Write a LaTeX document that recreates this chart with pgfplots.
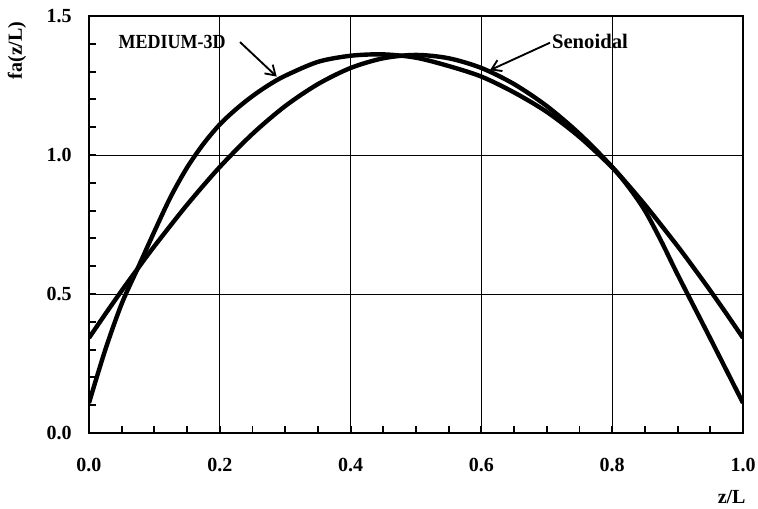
\documentclass[border=0pt]{standalone}
\usepackage{pgfplots}
\pgfplotsset{compat=1.18}
\usepackage{fontspec}
\setmainfont{Liberation Serif}
\usetikzlibrary{arrows.meta}

\pgfplotstableread{
x y
0.000 0.108
0.025 0.300
0.050 0.465
0.075 0.595
0.100 0.725
0.125 0.850
0.150 0.955
0.175 1.040
0.200 1.110
0.225 1.165
0.250 1.212
0.275 1.252
0.300 1.285
0.350 1.335
0.400 1.357
0.450 1.362
0.500 1.350
0.550 1.320
0.600 1.282
0.650 1.225
0.700 1.155
0.750 1.065
0.800 0.955
0.825 0.885
0.850 0.800
0.875 0.690
0.900 0.570
0.950 0.340
1.000 0.108
}\medium

\pgfplotstableread{
x y
0.000 0.342
0.025 0.428
0.050 0.512
0.075 0.593
0.100 0.672
0.150 0.821
0.200 0.957
0.250 1.076
0.300 1.176
0.350 1.255
0.400 1.313
0.450 1.348
0.500 1.360
0.550 1.348
0.600 1.313
0.650 1.255
0.700 1.176
0.750 1.076
0.800 0.957
0.850 0.821
0.900 0.672
0.925 0.593
0.950 0.512
0.975 0.428
1.000 0.342
}\senoidal

\begin{document}
\begin{tikzpicture}
\useasboundingbox (-66.75pt,-56.25pt) rectangle (501.75pt,324.75pt);
\begin{axis}[
  at={(0,0)}, anchor=south west,
  scale only axis, width=490.5pt, height=312.75pt,
  xmin=0, xmax=1, ymin=0, ymax=1.5,
  xtick={0,0.2,0.4,0.6,0.8,1.0},
  ytick={0,0.5,1.0,1.5},
  xticklabels={0.0,0.2,0.4,0.6,0.8,1.0},
  yticklabels={0.0,0.5,1.0,1.5},
  minor x tick num=3, minor y tick num=4,
  tick align=inside, xtick pos=bottom, ytick pos=left,
  major tick length=5pt, minor tick length=5pt,
  every tick/.style={black, line width=1.4pt},
  grid=major, major grid style={black, line width=0.6pt},
  axis line style={black, line width=2.2pt},
  ticklabel style={font=\fontsize{15}{17}\selectfont\bfseries},
  xticklabel style={yshift=-15pt},
  yticklabel style={xshift=-9.5pt},
  clip=true,
]
\addplot[black, line width=3.3pt, smooth] table[x=x,y=y] {\medium};
\addplot[black, line width=3.3pt, smooth] table[x=x,y=y] {\senoidal};

\draw[-{Straight Barb[length=7pt,width=9pt]}, line width=1.4pt] (axis cs:0.231,1.406) -- (axis cs:0.287,1.282);
\draw[-{Straight Barb[length=7pt,width=9pt]}, line width=1.4pt] (axis cs:0.705,1.404) -- (axis cs:0.613,1.305);
\node[font=\fontsize{15}{17}\selectfont\bfseries, inner sep=0pt] at (axis cs:0.127,1.406) {\scalebox{0.9}[1]{MEDIUM-3D}};
\node[font=\fontsize{15.5}{17}\selectfont\bfseries, inner sep=0pt] at (axis cs:0.766,1.41) {Senoidal};
\end{axis}
\node[font=\fontsize{15}{17}\selectfont\bfseries, inner sep=0pt] at (482pt,-48pt) {z/L};
\node[font=\fontsize{15}{17}\selectfont\bfseries, inner sep=0pt, rotate=90] at (-54pt,287pt) {fa(z/L)};
\end{tikzpicture}
\end{document}
